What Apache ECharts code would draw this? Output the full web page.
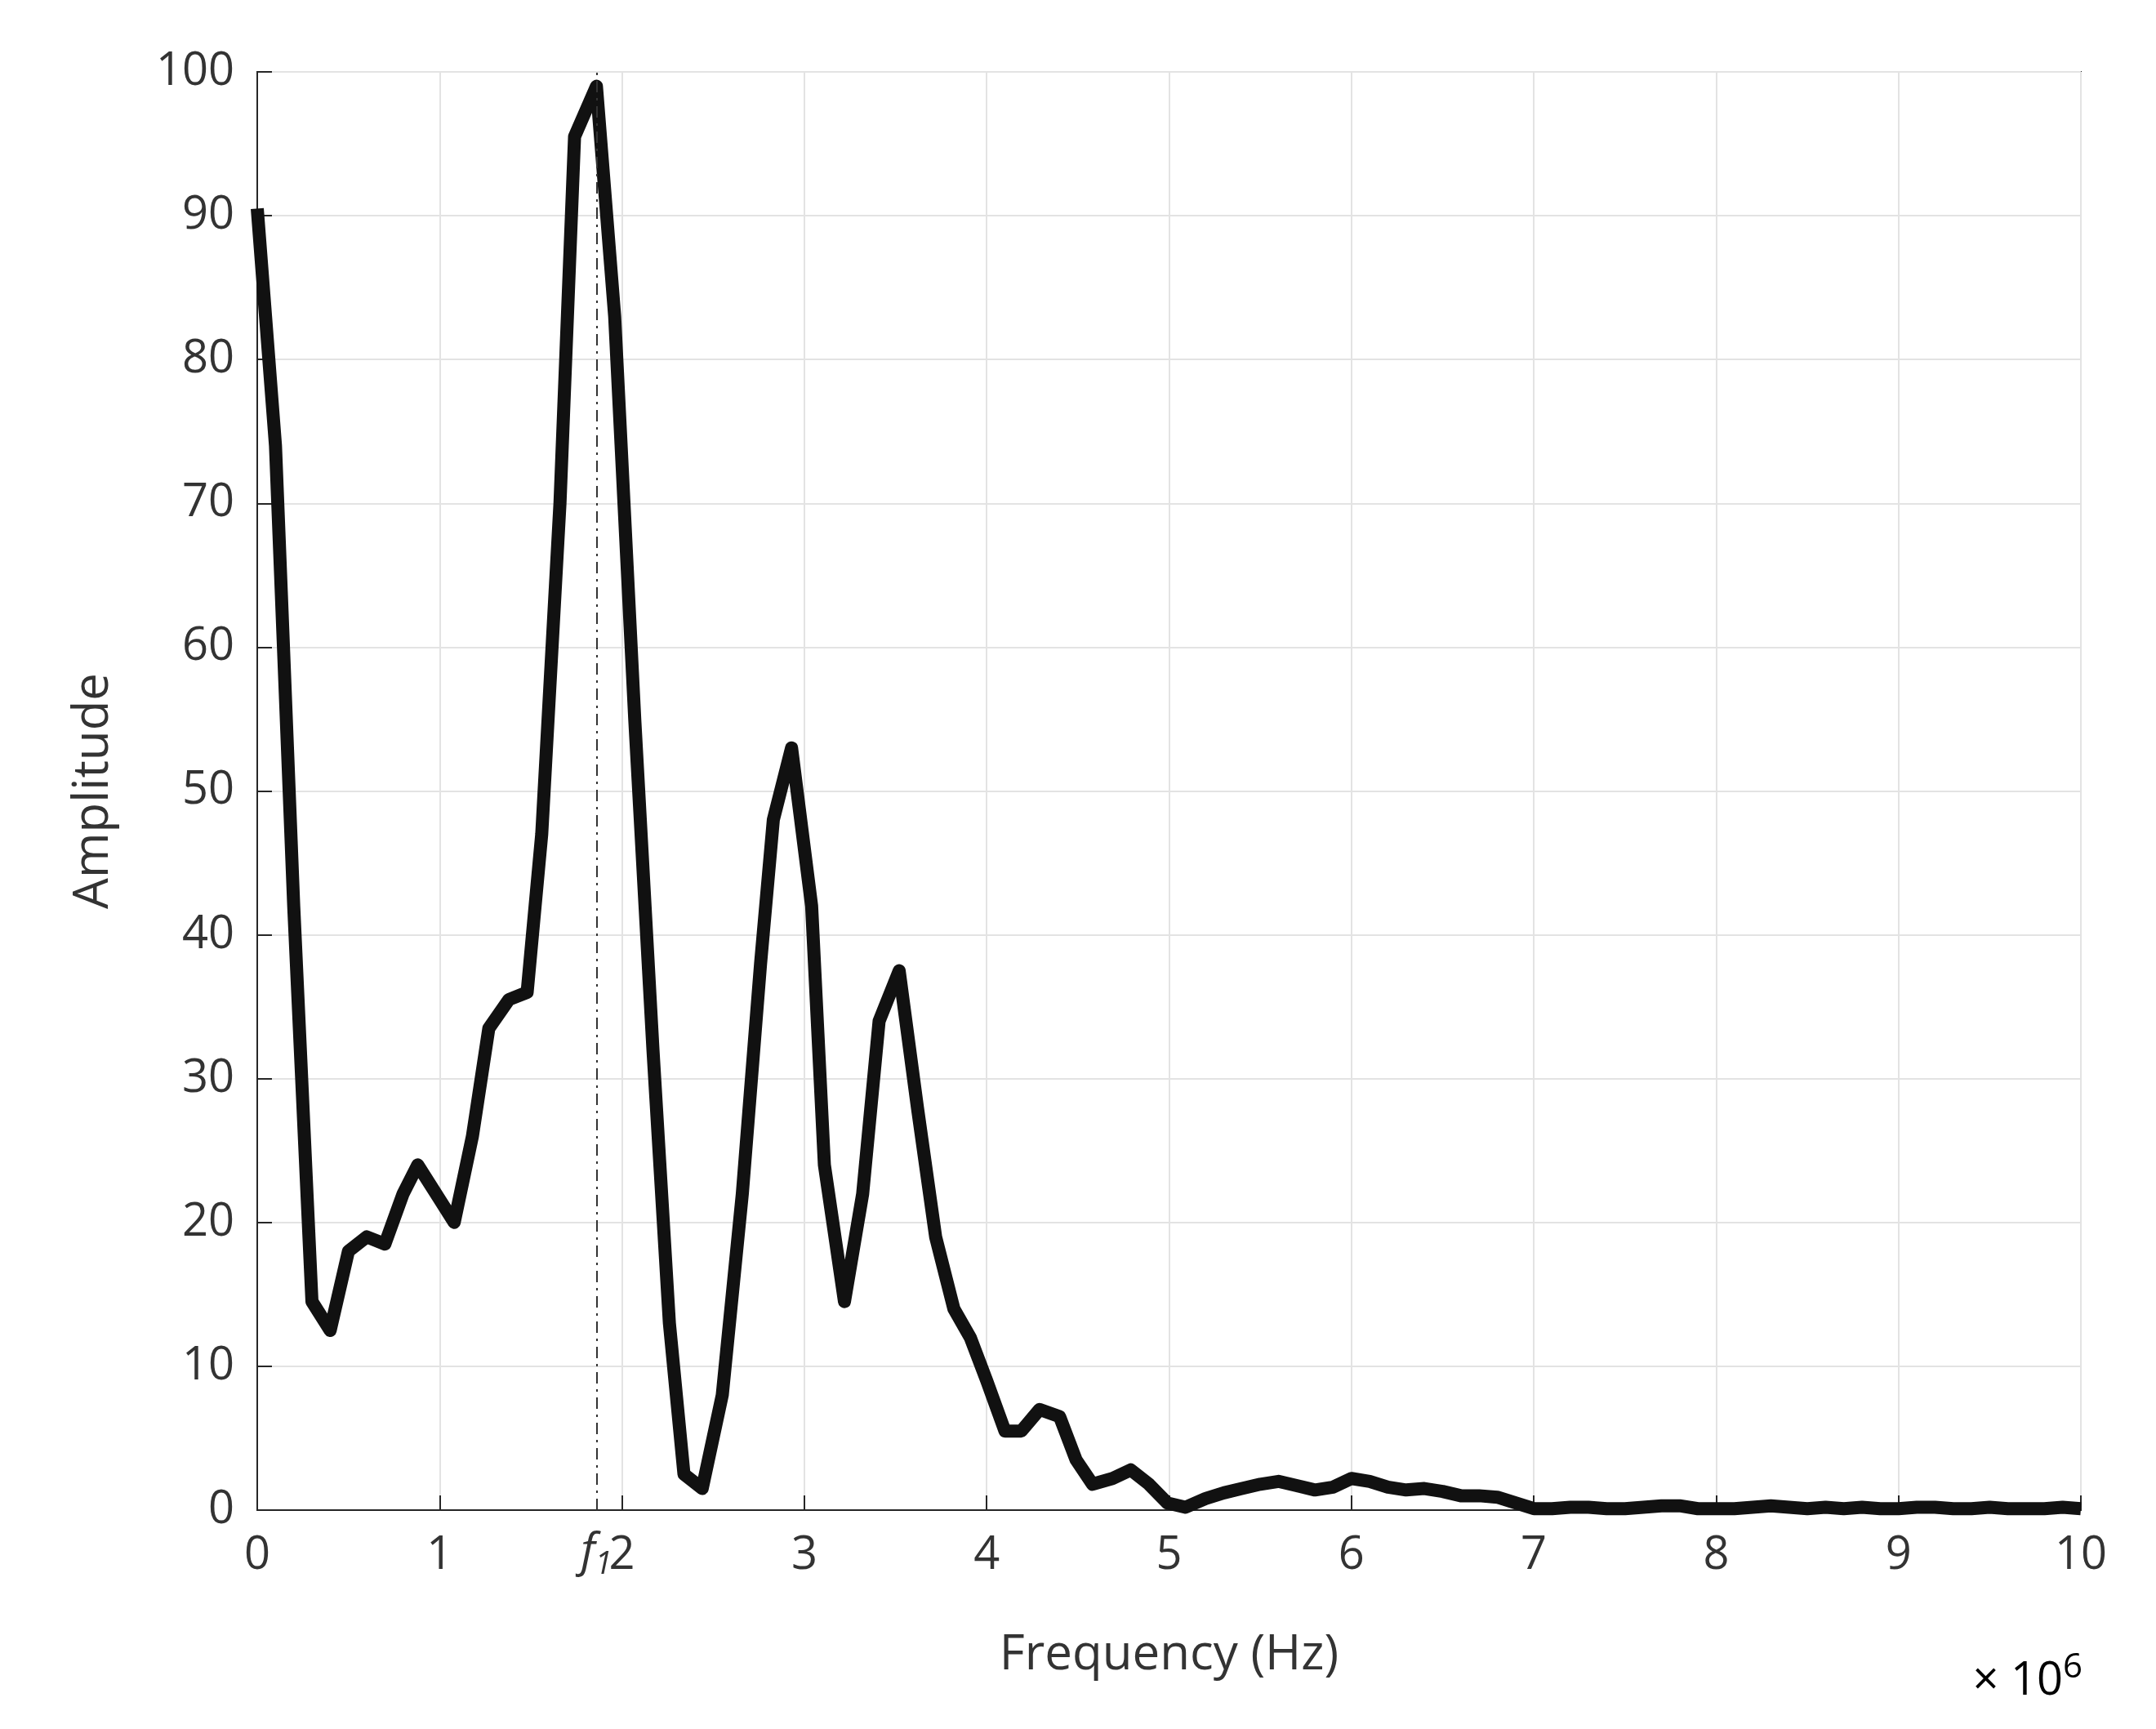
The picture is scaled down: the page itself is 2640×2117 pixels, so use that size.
<!DOCTYPE html>
<html><head><meta charset="utf-8">
<script src="https://cdn.jsdelivr.net/npm/echarts@6/dist/echarts.min.js"></script>
<style>html,body{margin:0;background:#fff}#c{width:2640px;height:2117px}</style>
</head><body><div id="c"></div>
<script>
const freqs = [0,0.1,0.2,0.3,0.4,0.5,0.6,0.7,0.8,0.88,0.98,1.08,1.18,1.27,1.38,1.48,1.56,1.66,1.74,1.86,1.96,2.07,2.17,2.26,2.34,2.44,2.55,2.66,2.76,2.83,2.93,3.04,3.11,3.22,3.32,3.41,3.52,3.62,3.72,3.82,3.91,4.0,4.1,4.19,4.29,4.4,4.49,4.58,4.69,4.79,4.89,4.99,5.09,5.2,5.3,5.4,5.5,5.6,5.7,5.8,5.9,6.0,6.1,6.2,6.3,6.4,6.5,6.6,6.7,6.8,6.9,7.0,7.1,7.2,7.3,7.4,7.5,7.6,7.7,7.8,7.9,8.0,8.1,8.2,8.3,8.4,8.5,8.6,8.7,8.8,8.9,9.0,9.1,9.2,9.3,9.4,9.5,9.6,9.7,9.8,9.9,10];
const amplitude = [90.5,74,42,14.5,12.5,18,19,18.5,22,24,22,20,26,33.5,35.5,36,47,70,95.5,99,83,55,32,13,2.5,1.5,8,22,38,48,53,42,24,14.5,22,34,37.5,28,19,14,12,9,5.5,5.5,7,6.5,3.5,1.8,2.2,2.8,1.8,0.5,0.2,0.8,1.2,1.5,1.8,2,1.7,1.4,1.6,2.2,2.0,1.6,1.4,1.5,1.3,1.0,1.0,0.9,0.5,0.1,0.1,0.2,0.2,0.1,0.1,0.2,0.3,0.3,0.1,0.1,0.1,0.2,0.3,0.2,0.1,0.2,0.1,0.2,0.1,0.1,0.2,0.2,0.1,0.1,0.2,0.1,0.1,0.1,0.2,0.1];
const f1 = 1.86;
const font = '"Open Sans", "Liberation Sans", sans-serif';
const chart = echarts.init(document.getElementById('c'));
chart.setOption({
  animation:false,
  grid:{left:315,right:92,top:88,bottom:268,show:true,borderColor:'#262626',borderWidth:2},
  xAxis:{type:'value',min:0,max:10,interval:1,
    name:'Frequency (Hz)',nameLocation:'middle',nameGap:148,
    nameTextStyle:{fontFamily:font,fontSize:60,color:'#333'},
    axisLine:{lineStyle:{color:'#262626',width:2}},
    axisTick:{inside:true,length:18,lineStyle:{color:'#262626',width:2}},
    axisLabel:{fontFamily:font,fontSize:56,color:'#333',margin:28},
    splitLine:{lineStyle:{color:'#e3e3e3',width:2}}},
  yAxis:{type:'value',min:0,max:100,interval:10,
    name:'Amplitude',nameLocation:'middle',nameGap:170,
    nameTextStyle:{fontFamily:font,fontSize:60,color:'#333'},
    axisLine:{lineStyle:{color:'#262626',width:2}},
    axisTick:{inside:true,length:18,lineStyle:{color:'#262626',width:2}},
    axisLabel:{fontFamily:font,fontSize:56,color:'#333',margin:28},
    splitLine:{lineStyle:{color:'#e3e3e3',width:2}}},
  series:[{type:'line',data:freqs.map((x,i)=>[x,amplitude[i]]),showSymbol:false,
    lineStyle:{color:'#111',width:16,join:'round'},
    markLine:{symbol:'none',silent:true,
      lineStyle:{color:'#333',width:2,type:[14,7,3,7]},
      label:{position:'start',distance:18,formatter:'{i|f}{s|1}',
        rich:{i:{fontFamily:font,fontStyle:'italic',fontSize:56,color:'#333'},
              s:{fontFamily:font,fontStyle:'italic',fontSize:38,color:'#333',verticalAlign:'bottom',padding:[30,0,0,0]}}},
      data:[[{coord:[f1,0]},{coord:[f1,100]}]]}}],
  graphic:[{type:'text',right:90,bottom:30,style:{text:'{a|× 10}{b|6}',
    rich:{a:{fontFamily:font,fontSize:56,color:'#333'},b:{fontFamily:font,fontSize:42,color:'#333',padding:[0,0,34,0]}}}}]
});
</script></body></html>
